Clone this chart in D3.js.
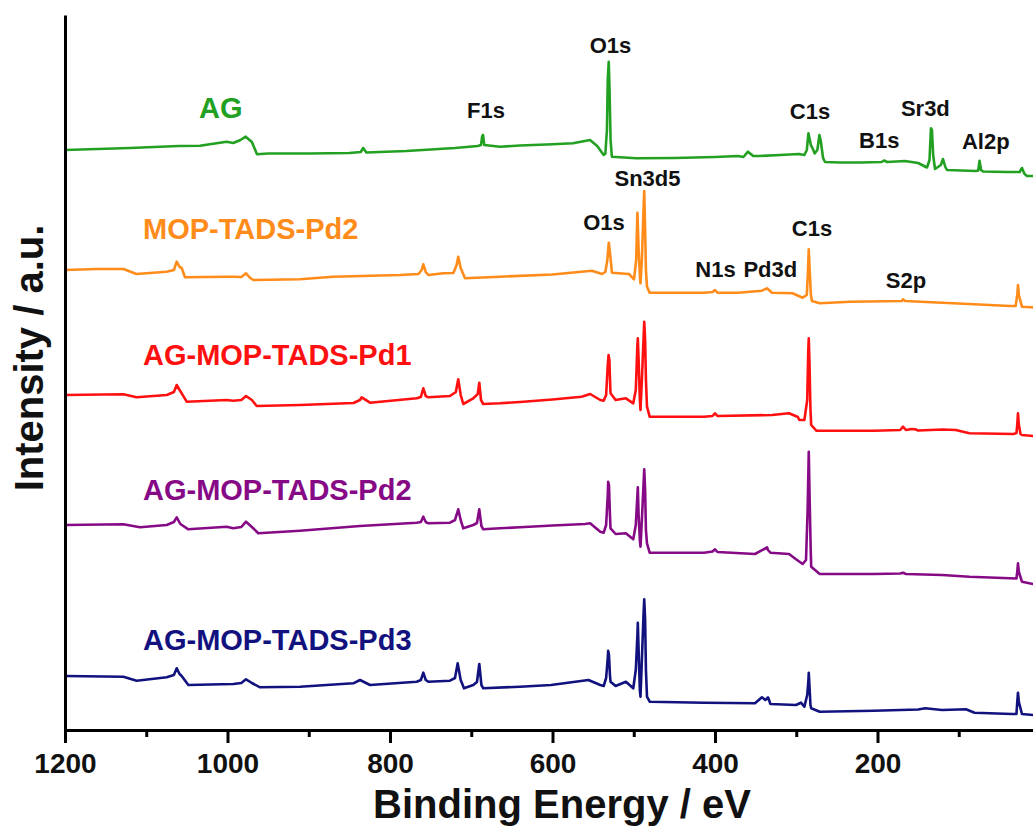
<!DOCTYPE html>
<html>
<head>
<meta charset="utf-8">
<script src="https://cdn.jsdelivr.net/npm/d3@7"></script>
<style>
  html, body { margin: 0; padding: 0; background: #fff; }
  svg { display: block; }
  text { font-family: "Liberation Sans", Arial, sans-serif; font-weight: bold; }
</style>
</head>
<body>
<svg id="chart" width="1033" height="826"></svg>
<script>
// XPS survey spectra, stacked with offsets (binding energy in eV, intensity in a.u.)
const spectrumAG = [
  [1200, 580], [1120, 582], [1060, 584], [1034, 584.3], [1001, 588.3], [993, 587],
  [984, 590], [977.6, 593.3], [970, 588], [963.7, 575.7], [950, 576.5], [900, 576.5],
  [850, 577], [836, 578], [833, 582], [829, 577.5], [780, 579], [720, 582], [692, 584],
  [688, 585], [686.5, 594], [685.5, 595], [684, 585], [664.6, 583.3], [640, 584.5],
  [600, 585.8], [574.8, 586.7], [553.8, 590], [545, 584], [537, 575], [535, 576],
  [533, 600], [532, 650], [530.8, 668.3], [529.8, 640], [528.5, 590], [527, 574],
  [526.8, 573.3], [497, 571.7], [450, 572], [400, 573], [371.7, 574], [365, 573],
  [359.4, 578.3], [353, 574], [346.5, 574], [320, 575], [296.6, 576], [290, 575],
  [287, 580], [285, 596.7], [284.3, 594], [282, 585], [279, 580], [277.4, 576.7],
  [274, 580], [271.5, 595], [270, 590], [267, 572], [264.6, 568], [246.2, 567.5],
  [220, 567.5], [195, 568], [192, 569.5], [188, 568], [166.2, 569], [150, 567],
  [139.1, 562.5], [136, 570], [134.2, 601.7], [133, 600], [131.5, 575], [129.2, 561],
  [122, 565], [119.4, 571], [116.5, 563], [114.5, 560], [78.8, 559], [76, 559.5],
  [74.4, 569.3], [72.5, 560], [70.2, 558.5], [40.6, 558], [25, 558], [22.2, 562],
  [19, 556], [16, 554], [5, 554]
];

const spectrumMOP2 = [
  [1200, 460], [1161, 461], [1128, 461], [1112, 456], [1075, 458.3], [1066, 460],
  [1062.5, 468.3], [1059, 463], [1056.4, 462], [1052.3, 452.7], [1000, 453.3],
  [993.2, 453.3], [983, 453], [977.2, 456.7], [972, 452], [968.2, 450], [910.8, 450.7],
  [870.2, 453.3], [787.7, 455], [765, 456], [761, 460], [759, 465.7], [756, 458],
  [752.9, 455], [734.4, 456.7], [722, 457], [718, 465], [716, 473.3], [713, 462],
  [707.7, 451.7], [664.6, 453.3], [600, 455.5], [551.6, 459.3], [539, 456], [535, 458],
  [532.5, 470], [530.7, 487.3], [529, 475], [526.8, 457.3], [505.8, 456], [499.7, 450.7],
  [497, 470], [495.5, 517.3], [494, 480], [492.5, 455], [491.7, 446.7], [490, 470],
  [488, 520], [487.1, 539], [486, 500], [485, 460], [483.7, 443.3], [480.4, 437.3],
  [413.5, 437.3], [403, 438], [400, 440], [397, 437.3], [371.7, 437.3], [342.2, 439.3],
  [336, 441.7], [329.8, 437.3], [304.6, 436.7], [292.1, 432.3], [287, 435], [285.5, 460],
  [284.6, 480.7], [283.5, 460], [282, 435], [280.6, 429], [271.1, 426.7], [233.8, 428.3],
  [170, 429], [168.6, 430.7], [166, 429], [120.6, 427.3], [87.4, 426], [36.9, 424],
  [30, 424], [28, 435], [27.1, 445], [26, 435], [22.2, 423.3], [11.6, 422.7], [5, 422.5]
];

const spectrumAGPd1 = [
  [1200, 335], [1128.2, 335.7], [1111.8, 332.7], [1074.8, 335], [1066, 338],
  [1062.5, 345], [1059, 340], [1056.4, 336.7], [1050.2, 328.3], [1001, 330],
  [992.9, 329.3], [983, 330], [977.2, 334], [970, 330], [964.1, 324], [910.8, 325],
  [845, 327], [837, 330], [834.8, 332.7], [824.6, 327.3], [767.1, 331.7], [762, 333],
  [759, 341.7], [756, 334], [752.9, 332.7], [726.2, 334], [719, 338], [716, 350.7],
  [713, 335], [709.8, 326], [697.5, 331.7], [692, 336], [690.1, 347.3], [688, 330],
  [685.2, 326], [664.6, 326.7], [640, 328], [600, 330.5], [564.2, 333.3], [553.7, 336],
  [541.2, 330], [537, 329.3], [534, 335], [532, 365], [531, 375], [530, 370], [529, 345],
  [528.6, 336.7], [522.3, 330], [509.7, 331.7], [500.6, 326.7], [497.5, 340],
  [495.5, 385], [495, 391.7], [494, 370], [492.5, 330], [491.7, 320], [490, 350],
  [488, 390], [487.1, 408.3], [486, 390], [485, 350], [483.7, 323.3], [480.4, 313.3],
  [413.5, 313.3], [403, 314], [400, 316.7], [397, 314], [329.8, 315], [308.9, 316.7],
  [298, 313], [296.2, 310], [290, 310], [286.5, 330], [285.2, 380], [284.6, 391.7],
  [283.8, 370], [282.5, 320], [281.6, 305], [275.3, 299.3], [204.3, 299.3], [172, 300],
  [168.6, 303.3], [165, 300], [158, 301], [153.8, 300.7], [150, 299.5], [120, 300.5],
  [103.6, 300], [86.9, 296.7], [32.5, 296], [29, 297], [28, 305], [27.1, 316.7],
  [26, 305], [24, 296], [22.2, 295], [8.6, 294], [5, 294]
];

const spectrumAGPd2 = [
  [1200, 205], [1128.2, 205.7], [1107.7, 202.7], [1074.8, 205], [1066, 208],
  [1062.5, 212.7], [1058, 206], [1048.2, 200.7], [1001, 203.3], [992.9, 201.7],
  [983, 203], [977.2, 208.3], [970, 203], [962.1, 196.7], [910.8, 199.3], [837, 204],
  [767.1, 207.3], [762, 208], [759, 213.3], [756, 208], [752.9, 206.7], [726.2, 207.3],
  [720, 210], [716, 220.7], [713, 210], [709.8, 201.7], [697.5, 205], [693, 207],
  [690.1, 220.7], [687.5, 204], [685.2, 200.7], [664.6, 201.7], [640, 202.7],
  [600, 204.5], [560, 206], [553.7, 206.7], [541.2, 198.3], [537, 197.3], [534, 205],
  [532, 235], [531.5, 248.3], [530.5, 245], [529.3, 215], [528.6, 201.7], [522.3, 196],
  [509.7, 196.7], [500.6, 190.7], [497.5, 205], [495.5, 235], [495, 242.7], [494, 215],
  [492.5, 190], [491.7, 183.3], [490, 210], [488, 245], [487.1, 260.7], [486, 240],
  [485, 200], [483.7, 186.7], [480.4, 177.3], [413.5, 177.3], [403, 178.5], [400, 180.7],
  [397, 178], [350.8, 176], [340.2, 180.7], [338, 181.5], [336, 182.7], [334.8, 180],
  [331.8, 177.3], [308.9, 176], [300.3, 170.7], [292.1, 166], [288, 170], [286, 220],
  [284.6, 278.3], [283.5, 230], [282.2, 180], [281.6, 163.3], [271.1, 156], [204.3, 156],
  [172, 156.5], [168.6, 157.3], [165, 156], [120.6, 155], [86.9, 153.3], [36.9, 151.7],
  [29, 151.5], [28, 158], [27.1, 166.7], [26, 158], [22.2, 148.3], [8.6, 146], [5, 146]
];

const spectrumAGPd3 = [
  [1200, 54], [1128.2, 53.3], [1111.8, 49.3], [1074.8, 52.7], [1066, 55],
  [1062.5, 61.7], [1059, 56], [1056.4, 54], [1048.2, 45], [992.9, 46], [983, 47],
  [977.2, 50.7], [970, 47], [960, 42.7], [910.8, 43.3], [845.2, 46.7], [836.9, 50],
  [824.6, 45], [767.1, 48.3], [762, 50], [759, 57.3], [756, 50], [752.9, 48.3],
  [726.2, 49.3], [720, 52], [716.7, 66.7], [713, 50], [708.9, 41.7], [697.5, 45],
  [693, 48], [690.1, 66], [687.5, 45], [685.2, 41.7], [640, 43.3], [601.8, 45],
  [555.8, 50], [541.2, 45], [537, 44], [534, 52], [532, 72], [531.5, 79.3], [530.5, 75],
  [529.3, 55], [528.6, 48.3], [522.3, 44], [509.7, 48.3], [500.6, 41.7], [497.5, 60],
  [495.5, 95], [495, 107.3], [494, 80], [492.5, 40], [491.7, 33.3], [490, 70], [488, 115],
  [487.1, 130.7], [486, 110], [485, 60], [483.7, 33.3], [480.4, 28.3], [413.5, 27.3],
  [350.8, 26.7], [342.2, 32.7], [338.1, 30], [334.8, 32.7], [331.8, 26], [300.3, 25],
  [294.2, 27.3], [290, 23.3], [286.5, 35], [285, 50], [284.6, 57.3], [283.8, 45],
  [282.5, 25], [281.6, 21.7], [271.1, 18.3], [204.3, 19.3], [150, 20.5], [141.3, 21.7],
  [120.6, 20], [91.1, 20.7], [80.6, 17.3], [34.5, 16], [29, 16], [28, 28], [27.1, 37.3],
  [26, 28], [22.2, 16], [8.6, 15], [5, 15]
];

// Sample names, colours and where each name sits (start energy, baseline intensity)
const sampleNames  = ["AG", "MOP-TADS-Pd2", "AG-MOP-TADS-Pd1", "AG-MOP-TADS-Pd2", "AG-MOP-TADS-Pd3"];
const sampleColors = ["#22a022", "#ff8c1a", "#ff1010", "#860a86", "#12127f"];
const sampleLabelAt = [[1035, 612], [1104, 491], [1104, 365], [1104, 230], [1104, 80]];

// Core-level peak assignments: [text, centre energy, baseline intensity]
const peakLabels = [
  ["O1s", 528.6, 677.3], ["F1s", 681.8, 612], ["C1s", 283.1, 610.7],
  ["Sr3d", 141.1, 614], ["B1s", 197.9, 581.7], ["Al2p", 66.7, 580.7],
  ["Sn3d5", 483.1, 544], ["O1s", 536.6, 500], ["C1s", 280.6, 494],
  ["N1s", 399.4, 453.3], ["Pd3d", 331.9, 453.3], ["S2p", 164.9, 441.7]
];

const majorTicks = [1200, 1000, 800, 600, 400, 200];
const minorTicks = [1100, 900, 700, 500, 300, 100];

const spectra = [spectrumAG, spectrumMOP2, spectrumAGPd1, spectrumAGPd2, spectrumAGPd3];

const svg = d3.select("#chart");
const plotLeft = 65, plotRight = 1040, plotTop = 15, plotBottom = 730;

const x = d3.scaleLinear().domain([1200, 0]).range([plotLeft, plotRight]);
const y = d3.scaleLinear().domain([0, 715]).range([plotBottom, plotTop]);

svg.append("clipPath").attr("id", "plotClip")
  .append("rect").attr("x", plotLeft).attr("y", 0)
  .attr("width", plotRight - plotLeft).attr("height", plotBottom);

const line = d3.line().x(d => x(d[0])).y(d => y(d[1]));

svg.append("g").attr("clip-path", "url(#plotClip)")
  .selectAll("path").data(spectra).join("path")
  .attr("d", line)
  .attr("fill", "none")
  .attr("stroke", (d, i) => sampleColors[i])
  .attr("stroke-width", 2.6)
  .attr("stroke-linejoin", "round");

// Sample names
svg.append("g").selectAll("text").data(sampleNames).join("text")
  .attr("x", (d, i) => x(sampleLabelAt[i][0]))
  .attr("y", (d, i) => y(sampleLabelAt[i][1]))
  .attr("fill", (d, i) => sampleColors[i])
  .attr("font-size", 29)
  .text(d => d);

// Peak labels
svg.append("g").selectAll("text").data(peakLabels).join("text")
  .attr("x", d => x(d[1]))
  .attr("y", d => y(d[2]))
  .attr("text-anchor", "middle")
  .attr("fill", "#111")
  .attr("font-size", 22)
  .text(d => d[0]);

// Bottom axis: major ticks with labels, then minor ticks
const xAxis = svg.append("g").attr("transform", `translate(0,${plotBottom})`)
  .call(d3.axisBottom(x).tickValues(majorTicks).tickFormat(d3.format("d"))
    .tickSize(13).tickSizeOuter(0));
xAxis.select(".domain").attr("stroke", "#000").attr("stroke-width", 3);
xAxis.selectAll(".tick line").attr("stroke", "#000").attr("stroke-width", 3);
xAxis.selectAll(".tick text")
  .attr("y", 43).attr("dy", null)
  .attr("fill", "#111")
  .attr("font-size", 28)
  .attr("font-family", "'Liberation Sans', Arial, sans-serif")
  .attr("font-weight", "bold");

const xMinor = svg.append("g").attr("transform", `translate(0,${plotBottom})`)
  .call(d3.axisBottom(x).tickValues(minorTicks).tickFormat("").tickSize(7).tickSizeOuter(0));
xMinor.select(".domain").remove();
xMinor.selectAll(".tick line").attr("stroke", "#000").attr("stroke-width", 3);

// Left axis line without ticks
const yAxis = svg.append("g").attr("transform", `translate(${plotLeft},0)`)
  .call(d3.axisLeft(y).tickValues([]).tickSizeOuter(0));
yAxis.select(".domain").attr("stroke", "#000").attr("stroke-width", 3);

// Axis titles
svg.append("text")
  .attr("x", 562).attr("y", 818)
  .attr("text-anchor", "middle")
  .attr("font-size", 40)
  .attr("fill", "#111")
  .text("Binding Energy / eV");

svg.append("text")
  .attr("transform", "translate(43,358) rotate(-90)")
  .attr("text-anchor", "middle")
  .attr("font-size", 40)
  .attr("fill", "#111")
  .text("Intensity / a.u.");
</script>
</body>
</html>
